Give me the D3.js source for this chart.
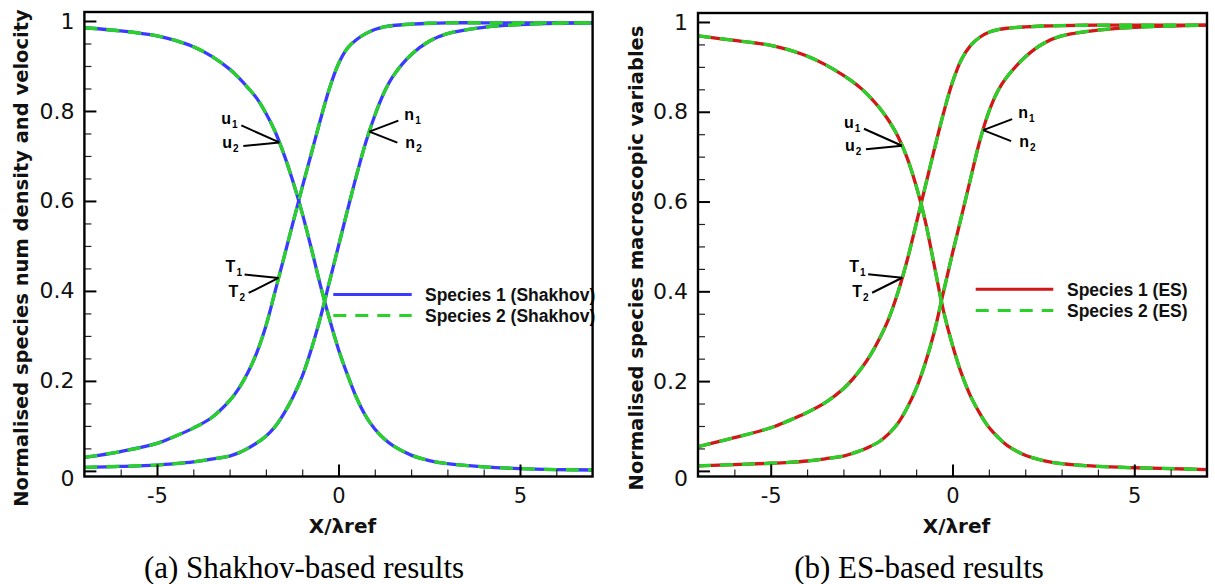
<!DOCTYPE html>
<html>
<head>
<meta charset="utf-8">
<script src="https://cdn.jsdelivr.net/npm/d3@7/dist/d3.min.js"></script>
<style>
  html, body { margin: 0; padding: 0; background: #fff; }
  svg { display: block; }
</style>
</head>
<body>
<svg id="chart" width="1215" height="584"></svg>
<script>
// Shared abscissa X/λref for every profile
const X_GRID = [-7, -6, -5, -4.5, -4, -3.5, -3, -2.75, -2.5, -2.25, -2, -1.75, -1.5, -1.25, -1, -0.75,
                -0.5, -0.25, 0, 0.25, 0.5, 0.75, 1, 1.25, 1.5, 2, 2.5, 3, 4, 5, 6, 7];

// Shakhov model: normalised velocity, number density, temperature
const SHAKHOV_U = [0.985, 0.978, 0.967, 0.957, 0.943, 0.922, 0.893, 0.874, 0.852, 0.828, 0.795, 0.755, 0.703, 0.642,
                   0.573, 0.495, 0.413, 0.338, 0.270, 0.213, 0.162, 0.122, 0.093, 0.072, 0.056, 0.035, 0.023, 0.016,
                   0.009, 0.005, 0.003, 0.002];
const SHAKHOV_N = [0.008, 0.010, 0.013, 0.016, 0.020, 0.026, 0.033, 0.040, 0.050, 0.062, 0.077, 0.098, 0.128, 0.165,
                   0.210, 0.270, 0.340, 0.420, 0.500, 0.580, 0.658, 0.730, 0.790, 0.840, 0.877, 0.925, 0.955, 0.972,
                   0.986, 0.992, 0.995, 0.996];
const SHAKHOV_T = [0.030, 0.043, 0.061, 0.077, 0.095, 0.118, 0.156, 0.183, 0.218, 0.263, 0.322, 0.398, 0.475, 0.553,
                   0.630, 0.705, 0.780, 0.850, 0.905, 0.940, 0.959, 0.972, 0.981, 0.987, 0.990, 0.993, 0.995, 0.996,
                   0.996, 0.996, 0.996, 0.996];

// ES model: normalised velocity, number density, temperature
const ES_U = [0.969, 0.959, 0.948, 0.938, 0.924, 0.905, 0.881, 0.867, 0.851, 0.831, 0.808, 0.780, 0.745, 0.698,
              0.635, 0.557, 0.457, 0.357, 0.280, 0.216, 0.166, 0.128, 0.097, 0.075, 0.057, 0.035, 0.023, 0.016,
              0.010, 0.007, 0.005, 0.003];
const ES_N = [0.011, 0.014, 0.017, 0.019, 0.022, 0.027, 0.033, 0.039, 0.046, 0.055, 0.066, 0.083, 0.106, 0.140,
              0.183, 0.240, 0.310, 0.398, 0.485, 0.568, 0.652, 0.735, 0.800, 0.847, 0.878, 0.922, 0.952, 0.969,
              0.982, 0.988, 0.991, 0.993];
const ES_T = [0.054, 0.074, 0.096, 0.112, 0.130, 0.152, 0.183, 0.204, 0.229, 0.259, 0.296, 0.340, 0.398, 0.468,
              0.550, 0.633, 0.716, 0.796, 0.866, 0.917, 0.948, 0.966, 0.977, 0.983, 0.986, 0.989, 0.991, 0.992,
              0.993, 0.993, 0.993, 0.993];

// Axis ticks and labels
const X_MAJOR = [-5, 0, 5];
const X_LABELS = ["-5", "0", "5"];
const X_MINOR = [-6, -4, -3, -2, -1, 1, 2, 3, 4, 6];
const Y_MAJOR = [0, 0.2, 0.4, 0.6, 0.8, 1];
const Y_LABELS = ["0", "0.2", "0.4", "0.6", "0.8", "1"];
const Y_MINOR = [0.05, 0.1, 0.15, 0.25, 0.3, 0.35, 0.45, 0.5, 0.55, 0.65, 0.7, 0.75, 0.85, 0.9, 0.95];

const X_DOMAIN = [-7, 7];
const Y_DOMAIN = [-0.0125, 1.02];

const GREEN = "#28d228";

const panels = [
  {
    id: "shakhov",
    left: 84.4, right: 592.6, top: 12, bottom: 476.5,
    series: { u: SHAKHOV_U, n: SHAKHOV_N, T: SHAKHOV_T },
    color1: "#3a3aff",
    yTitle: "Normalised species num density and velocity",
    yTitleX: 28,
    legend: ["Species 1 (Shakhov)", "Species 2 (Shakhov)"],
    legendX: [333.3, 411.7, 425], legendY: [294.5, 315.5],
    caption: "(a) Shakhov-based results", captionX: 304,
    notes: { u: -1.63, T: -1.65, n: 0.85 }
  },
  {
    id: "es",
    left: 698, right: 1207, top: 13, bottom: 476.5,
    series: { u: ES_U, n: ES_N, T: ES_T },
    color1: "#d01818",
    yTitle: "Normalised species macroscopic variables",
    yTitleX: 643,
    legend: ["Species 1 (ES)", "Species 2 (ES)"],
    legendX: [975.7, 1053.3, 1067], legendY: [289.3, 310.5],
    caption: "(b) ES-based results", captionX: 919,
    notes: { u: -1.39, T: -1.385, n: 0.843 }
  }
];

// Leader-line and label offsets (pixels) relative to the annotated curve point
const NOTE_LAYOUT = {
  u: { names: ["u", "u"], lines: [[-38, -17], [-36, 3.5]], labels: [[-58, -18], [-57, 5.5]] },
  T: { names: ["T", "T"], lines: [[-34, -3.5], [-30, 15]], labels: [[-53, -5.5], [-50, 19]] },
  n: { names: ["n", "n"], lines: [[29, -11], [28, 11]], labels: [[35, -12], [36, 16.5]] }
};

const svg = d3.select("#chart");
svg.append("rect").attr("width", 1215).attr("height", 584).attr("fill", "#fff");

function interp(xs, ys, xv) {
  for (let i = 0; i < xs.length - 1; i++) {
    if (xv >= xs[i] && xv <= xs[i + 1]) {
      const t = (xv - xs[i]) / (xs[i + 1] - xs[i]);
      return ys[i] + t * (ys[i + 1] - ys[i]);
    }
  }
  return ys[ys.length - 1];
}

panels.forEach(p => {
  const x = d3.scaleLinear().domain(X_DOMAIN).range([p.left, p.right]);
  const y = d3.scaleLinear().domain(Y_DOMAIN).range([p.bottom, p.top]);
  const g = svg.append("g").attr("class", "panel-" + p.id);

  // clip region for the profiles
  const clipId = "clip-" + p.id;
  svg.append("defs").append("clipPath").attr("id", clipId)
    .append("rect").attr("x", p.left).attr("y", p.top)
    .attr("width", p.right - p.left).attr("height", p.bottom - p.top);

  const line = d3.line()
    .x((d, i) => x(X_GRID[i]))
    .y(d => y(d))
    .curve(d3.curveCatmullRom.alpha(0.5));

  const curves = g.append("g").attr("clip-path", `url(#${clipId})`);
  ["u", "n", "T"].forEach(k => {
    curves.append("path").attr("d", line(p.series[k]))
      .attr("fill", "none").attr("stroke", p.color1).attr("stroke-width", 3.3);
  });
  ["u", "n", "T"].forEach(k => {
    curves.append("path").attr("d", line(p.series[k]))
      .attr("fill", "none").attr("stroke", GREEN).attr("stroke-width", 3.3)
      .attr("stroke-dasharray", "13,9");
  });

  // axes: ticks point into the plot
  const xAxisMinor = d3.axisBottom(x).tickValues(X_MINOR).tickSize(-7).tickFormat("");
  const xAxisMajor = d3.axisBottom(x).tickValues(X_MAJOR).tickSize(-12).tickPadding(12)
    .tickFormat((d, i) => X_LABELS[i]);
  const yAxisMinor = d3.axisLeft(y).tickValues(Y_MINOR).tickSize(-7).tickFormat("");
  const yAxisMajor = d3.axisLeft(y).tickValues(Y_MAJOR).tickSize(-12).tickPadding(10)
    .tickFormat((d, i) => Y_LABELS[i]);

  const gxm = g.append("g").attr("transform", `translate(0,${p.bottom})`).call(xAxisMinor);
  const gx = g.append("g").attr("transform", `translate(0,${p.bottom})`).call(xAxisMajor);
  const gym = g.append("g").attr("transform", `translate(${p.left},0)`).call(yAxisMinor);
  const gy = g.append("g").attr("transform", `translate(${p.left},0)`).call(yAxisMajor);

  [gxm, gx, gym, gy].forEach(a => a.select(".domain").remove());
  [gxm, gym].forEach(a => a.selectAll(".tick line").attr("stroke", "#222").attr("stroke-width", 1.2));
  [gx, gy].forEach(a => a.selectAll(".tick line").attr("stroke", "#000").attr("stroke-width", 2));
  gx.selectAll(".tick text").attr("font-family", "DejaVu Sans").attr("font-size", 21).attr("fill", "#111");
  gy.selectAll(".tick text").attr("font-family", "DejaVu Sans").attr("font-size", 22).attr("fill", "#111");
  gy.selectAll(".tick text").filter(d => d === 0).attr("dy", "0.68em");

  // legend
  const [lx0, lx1, tx] = p.legendX;
  g.append("line").attr("x1", lx0).attr("x2", lx1).attr("y1", p.legendY[0]).attr("y2", p.legendY[0])
    .attr("stroke", p.color1).attr("stroke-width", 3);
  g.append("line").attr("x1", lx0).attr("x2", lx1).attr("y1", p.legendY[1]).attr("y2", p.legendY[1])
    .attr("stroke", GREEN).attr("stroke-width", 3).attr("stroke-dasharray", "13,9");
  p.legend.forEach((txt, i) => {
    g.append("text").attr("x", tx).attr("y", p.legendY[i]).attr("dy", "0.36em")
      .attr("font-family", "Liberation Sans, Arial, sans-serif").attr("font-weight", "bold")
      .attr("font-size", 17.5).attr("fill", "#111").text(txt);
  });

  // curve annotations with leader lines
  Object.keys(NOTE_LAYOUT).forEach(k => {
    const ax = x(p.notes[k]);
    const ay = y(interp(X_GRID, p.series[k], p.notes[k]));
    const L = NOTE_LAYOUT[k];
    L.lines.forEach(([dx, dy]) => {
      g.append("line").attr("x1", ax + dx).attr("y1", ay + dy).attr("x2", ax).attr("y2", ay)
        .attr("stroke", "#000").attr("stroke-width", 2);
    });
    L.labels.forEach(([dx, dy], i) => {
      const t = g.append("text").attr("x", ax + dx).attr("y", ay + dy)
        .attr("font-family", "Liberation Sans, Arial, sans-serif").attr("font-weight", "bold")
        .attr("font-size", 16).attr("fill", "#000");
      t.append("tspan").text(L.names[i]);
      t.append("tspan").attr("font-size", 10).attr("dy", 4).attr("dx", 1).text(String(i + 1));
    });
  });

  // frame
  g.append("rect").attr("x", p.left).attr("y", p.top)
    .attr("width", p.right - p.left).attr("height", p.bottom - p.top)
    .attr("fill", "none").attr("stroke", "#000").attr("stroke-width", 2.4);

  // axis titles
  g.append("text").attr("x", (p.left + p.right) / 2 + 4).attr("y", 533)
    .attr("text-anchor", "middle").attr("font-family", "DejaVu Sans").attr("font-weight", "bold")
    .attr("font-size", 20).attr("fill", "#111").text("X/λref");
  g.append("text").attr("transform", `translate(${p.yTitleX},258) rotate(-90)`)
    .attr("text-anchor", "middle").attr("font-family", "DejaVu Sans").attr("font-weight", "bold")
    .attr("font-size", 19.5).attr("fill", "#111").text(p.yTitle);

  // caption
  svg.append("text").attr("x", p.captionX).attr("y", 578).attr("text-anchor", "middle")
    .attr("font-family", "Liberation Serif, Times New Roman, serif").attr("font-size", 31)
    .attr("fill", "#000").text(p.caption);
});
</script>
</body>
</html>
